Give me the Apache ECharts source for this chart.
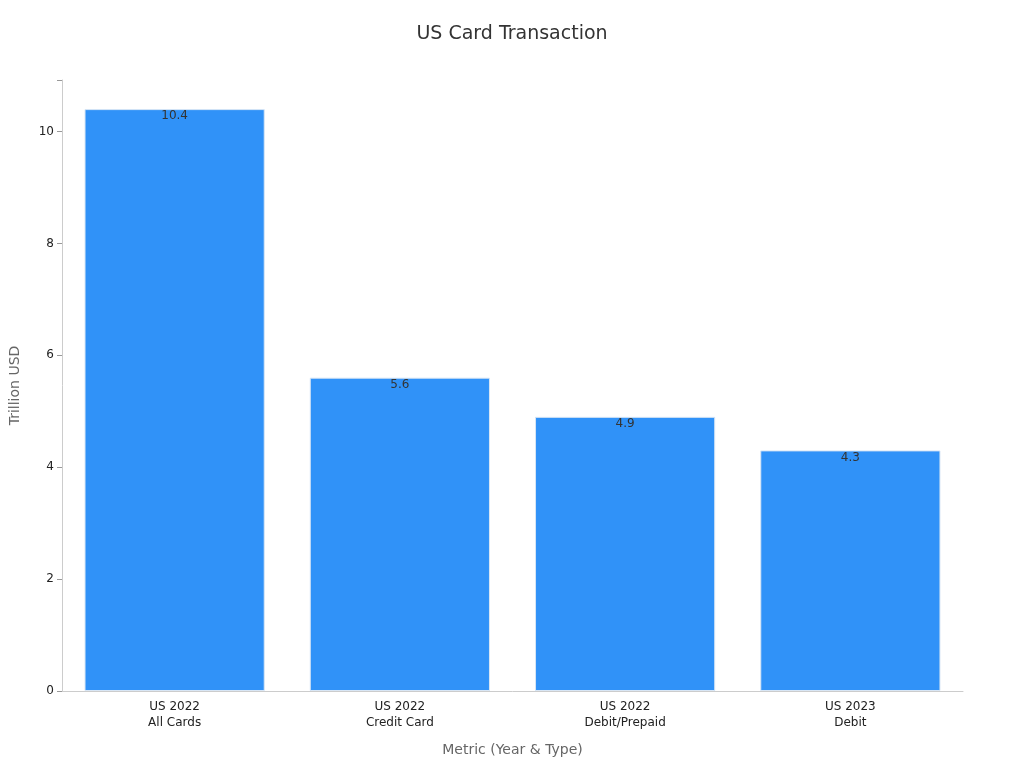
<!DOCTYPE html>
<html>
<head>
<meta charset="utf-8">
<script src="https://cdn.jsdelivr.net/npm/echarts@6/dist/echarts.min.js"></script>
<style>html,body{margin:0;padding:0;background:#fff}#chart{width:1024px;height:768px}</style>
</head>
<body>
<div id="chart"></div>
<script>
const categories = ["US 2022\nAll Cards", "US 2022\nCredit Card", "US 2022\nDebit/Prepaid", "US 2023\nDebit"];
const values = [10.4, 5.6, 4.9, 4.3];

const chart = echarts.init(document.getElementById("chart"));
chart.setOption({
  textStyle: { fontFamily: "DejaVu Sans" },
  title: {
    text: "US Card Transaction",
    left: "center",
    top: 20,
    textStyle: { fontSize: 19, fontWeight: "normal", color: "#333" }
  },
  grid: { left: 60, right: 61, top: 80, bottom: 77 },
  xAxis: {
    type: "category",
    data: categories,
    name: "Metric (Year & Type)",
    nameLocation: "middle",
    nameGap: 52,
    nameTextStyle: { fontSize: 14, color: "#666" },
    axisLine: { lineStyle: { color: "#ccc" } },
    axisTick: { alignWithLabel: true, lineStyle: { color: "#999" } },
    axisLabel: { color: "#222", fontSize: 12, lineHeight: 16 }
  },
  yAxis: {
    type: "value",
    min: 0,
    max: 10.92,
    interval: 2,
    name: "Trillion USD",
    nameLocation: "middle",
    nameGap: 40,
    nameTextStyle: { fontSize: 14, color: "#666" },
    axisLine: { show: true, lineStyle: { color: "#ccc" } },
    axisTick: { show: true, lineStyle: { color: "#999" } },
    axisLabel: {
      color: "#222", fontSize: 12,
      formatter: v => (v % 2 === 0 ? v : "")
    },
    splitLine: { show: false }
  },
  series: [{
    type: "bar",
    data: values,
    barCategoryGap: "20%",
    itemStyle: { color: "#3092F8", borderColor: "#d8e6f5", borderWidth: 1 },
    label: { show: true, position: "insideTop", offset: [0, -4], color: "#333", fontSize: 12 }
  }]
});
</script>
</body>
</html>
